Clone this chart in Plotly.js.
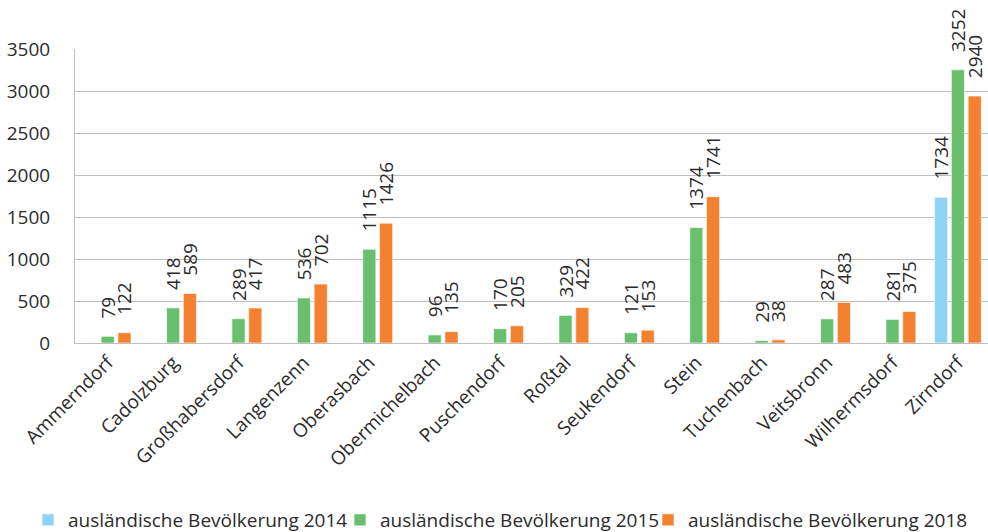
<!DOCTYPE html>
<html>
<head>
<meta charset="utf-8">
<script src="https://cdn.plot.ly/plotly-3.0.1.min.js"></script>
<style>html,body{margin:0;padding:0;background:#fff;}#chart{width:988px;height:532px;}</style>
</head>
<body>
<div id="chart"></div>
<script>
const categories = ["Ammerndorf","Cadolzburg","Großhabersdorf","Langenzenn","Oberasbach","Obermichelbach","Puschendorf","Roßtal","Seukendorf","Stein","Tuchenbach","Veitsbronn","Wilhermsdorf","Zirndorf"];
const values2014 = [null,null,null,null,null,null,null,null,null,null,null,null,null,1734];
const values2015 = [79,418,289,536,1115,96,170,329,121,1374,29,287,281,3252];
const values2018 = [122,589,417,702,1426,135,205,422,153,1741,38,483,375,2940];
const seriesNames = ["ausländische Bevölkerung 2014","ausländische Bevölkerung 2015","ausländische Bevölkerung 2018"];
const yTicks = [0,500,1000,1500,2000,2500,3000,3500];

const FONT = "Open Sans, sans-serif";
const TXT = "#2b2b2b";
const colors = ["#8ed3f5","#6abf6f","#f48130"];
const pad = "\u00a0\u00a0\u00a0";
const legendIds = ["legend","legend2","legend3"];
const legendX = [28, 340, 648];

function mk(vals, i) {
  return {
    type: "bar",
    x: categories,
    y: vals,
    name: seriesNames[i],
    legend: legendIds[i],
    marker: {color: colors[i], line: {color: "rgba(255,255,255,0.6)", width: 1}},
    text: vals.map(v => v == null ? "" : pad + v),
    textposition: "outside",
    textangle: -90,
    constraintext: "none",
    cliponaxis: false,
    textfont: {family: FONT, size: 19, color: TXT},
    hoverinfo: "skip"
  };
}

const data = [mk(values2014,0), mk(values2015,1), mk(values2018,2)];

function leg(i) {
  return {
    orientation: "h",
    xref: "container", yref: "container",
    x: legendX[i]/988, xanchor: "left",
    y: 12/532, yanchor: "middle",
    font: {family: FONT, size: 19, color: TXT},
    itemwidth: 30,
    bgcolor: "rgba(0,0,0,0)"
  };
}

const layout = {
  width: 988, height: 532,
  margin: {l: 75, r: 0, t: 49, b: 189},
  paper_bgcolor: "#fff", plot_bgcolor: "#fff",
  font: {family: FONT, size: 19, color: TXT},
  barmode: "group",
  bargap: 0.23,
  bargroupgap: 0.22,
  showlegend: true,
  legend: leg(0),
  legend2: leg(1),
  legend3: leg(2),
  xaxis: {
    type: "category",
    range: [-0.5, 13.46],
    tickangle: -45,
    showgrid: false,
    showline: true, linecolor: "#bfbfbf", linewidth: 1,
    ticks: "", tickfont: {family: FONT, size: 19, color: TXT},
    fixedrange: true
  },
  yaxis: {
    range: [0, 3500],
    tickvals: yTicks,
    ticktext: yTicks.map(String),
    showgrid: true, gridcolor: "#bfbfbf", gridwidth: 1,
    zeroline: false,
    showline: true, linecolor: "#bfbfbf", linewidth: 1,
    ticks: "", ticklabelstandoff: 20,
    tickfont: {family: FONT, size: 19, color: TXT},
    fixedrange: true
  }
};

Plotly.newPlot("chart", data, layout, {displayModeBar: false, staticPlot: true});
</script>
</body>
</html>
